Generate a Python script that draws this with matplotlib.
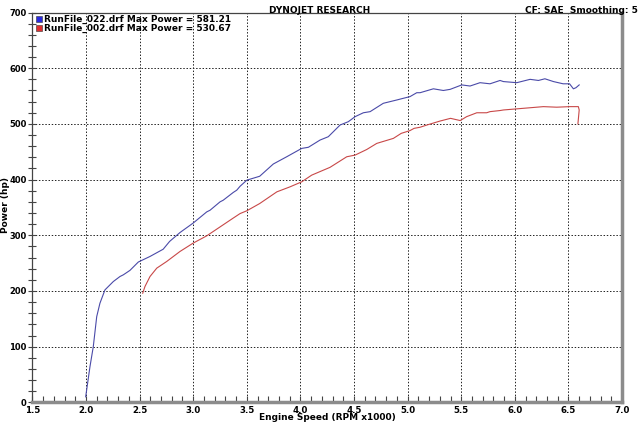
import matplotlib
matplotlib.use("Agg")
import matplotlib.pyplot as plt
from matplotlib.lines import Line2D
from matplotlib.ticker import MultipleLocator
import numpy as np

# ---- data ----
blue_rpm = [1.997, 2.037, 2.068, 2.10, 2.13, 2.177, 2.255, 2.317, 2.348, 2.41, 2.488, 2.597,
            2.72, 2.78, 2.877, 3.0, 3.126, 3.157, 3.25, 3.28, 3.374, 3.406, 3.437, 3.5, 3.62,
            3.747, 3.872, 4.012, 4.074, 4.183, 4.26, 4.37, 4.447, 4.51, 4.587, 4.65, 4.773,
            4.9, 4.94, 5.022, 5.085, 5.116, 5.24, 5.333, 5.396, 5.505, 5.582, 5.675, 5.768,
            5.862, 5.893, 6.018, 6.142, 6.22, 6.28, 6.36, 6.45, 6.51, 6.546, 6.57, 6.60]
blue_hp = [10, 64, 100, 154, 178, 202, 217, 226, 229, 237, 252, 262,
           275, 289, 305, 322, 342, 345, 360, 363, 377, 381, 388, 399, 406,
           428, 441, 456, 458, 471, 477, 498, 504, 513, 520, 522, 537,
           543, 545, 549, 556, 556, 563, 560, 562, 570, 568, 574, 572,
           578, 576, 574, 580, 578, 581, 576, 572, 572, 563, 565, 570]

red_rpm = [2.529, 2.55, 2.597, 2.66, 2.753, 2.877, 3.0, 3.126, 3.25, 3.374, 3.437, 3.5,
           3.62, 3.78, 3.903, 4.012, 4.105, 4.276, 4.432, 4.51, 4.618, 4.712, 4.867,
           4.94, 5.022, 5.06, 5.116, 5.18, 5.3, 5.4, 5.49, 5.55, 5.645, 5.737, 5.768,
           5.862, 5.893, 6.018, 6.142, 6.266, 6.39, 6.515, 6.592, 6.60, 6.588]
red_hp = [196, 208, 226, 241, 253, 271, 286, 299, 315, 331, 339, 344,
          357, 378, 387, 396, 408, 422, 441, 444, 454, 465, 474,
          483, 488, 492, 494, 498, 505, 510, 506, 513, 520, 520, 522,
          524, 525, 527, 529, 531, 530, 531, 531, 525, 500]

series_labels = ["RunFile_022.drf Max Power = 581.21",
                 "RunFile_002.drf Max Power = 530.67"]
series_colors = ["#4a4aa8", "#c84848"]

title = "DYNOJET RESEARCH"
info = "CF: SAE  Smoothing: 5"
xlabel = "Engine Speed (RPM x1000)"
ylabel = "Power (hp)"

fig = plt.figure(figsize=(6.4, 4.24), dpi=100)
ax = fig.add_axes([0.0506, 0.051, 0.9214, 0.9195])

ax.plot(blue_rpm, blue_hp, color=series_colors[0], lw=0.8)
ax.plot(red_rpm, red_hp, color=series_colors[1], lw=0.8)

ax.set_xlim(1.5, 7.0)
ax.set_ylim(0, 700)
ax.xaxis.set_major_locator(MultipleLocator(0.5))
ax.xaxis.set_minor_locator(MultipleLocator(0.1))
ax.yaxis.set_major_locator(MultipleLocator(100))
ax.yaxis.set_minor_locator(MultipleLocator(20))
ax.xaxis.set_major_formatter(matplotlib.ticker.FormatStrFormatter("%.1f"))

ax.grid(True, which="major", color="#222222", linestyle=(0, (1.5, 1.8)), lw=0.7)
ax.tick_params(axis="x", which="both", direction="in", length=4, width=0.8,
               labelsize=6.2, pad=2.5, color="#444444")
ax.tick_params(axis="y", which="both", direction="inout", length=6, width=0.8,
               labelsize=6.0, pad=1, color="#444444")
for lab in ax.get_xticklabels() + ax.get_yticklabels():
    lab.set_fontweight("bold")

ax.spines["left"].set_color("#444444")
ax.spines["top"].set_color("#444444")
ax.spines["left"].set_linewidth(0.9)
ax.spines["top"].set_linewidth(0.9)
ax.spines["bottom"].set_color("#8c8c8c")
ax.spines["right"].set_color("#8c8c8c")
ax.spines["bottom"].set_linewidth(2.5)
ax.spines["right"].set_linewidth(2.5)

fig.text(327 / 640, 1 - 418 / 424, xlabel, ha="center", va="center",
         fontsize=6.5, fontweight="bold")
fig.text(5.5 / 640, 1 - 205 / 424, ylabel, rotation=90, ha="center", va="center",
         fontsize=6.5, fontweight="bold")

handles = [Line2D([], [], marker="s", linestyle="none", markersize=5,
                  markerfacecolor=c, markeredgecolor="#333333", markeredgewidth=0.4)
           for c in ["#2a2ae0", "#e03030"]]
ax.legend(handles, series_labels, loc="upper left", frameon=False,
          prop={"size": 6.5, "weight": "bold"}, handlelength=0.8, handletextpad=0.2,
          labelspacing=0.0, borderaxespad=0.2, borderpad=0.1)

fig.text(0.5, 0.987, title, ha="center", va="top", fontsize=6.5, fontweight="bold")
fig.text(0.997, 0.987, info, ha="right", va="top", fontsize=6.5, fontweight="bold")

fig.savefig("out.png", dpi=100)
